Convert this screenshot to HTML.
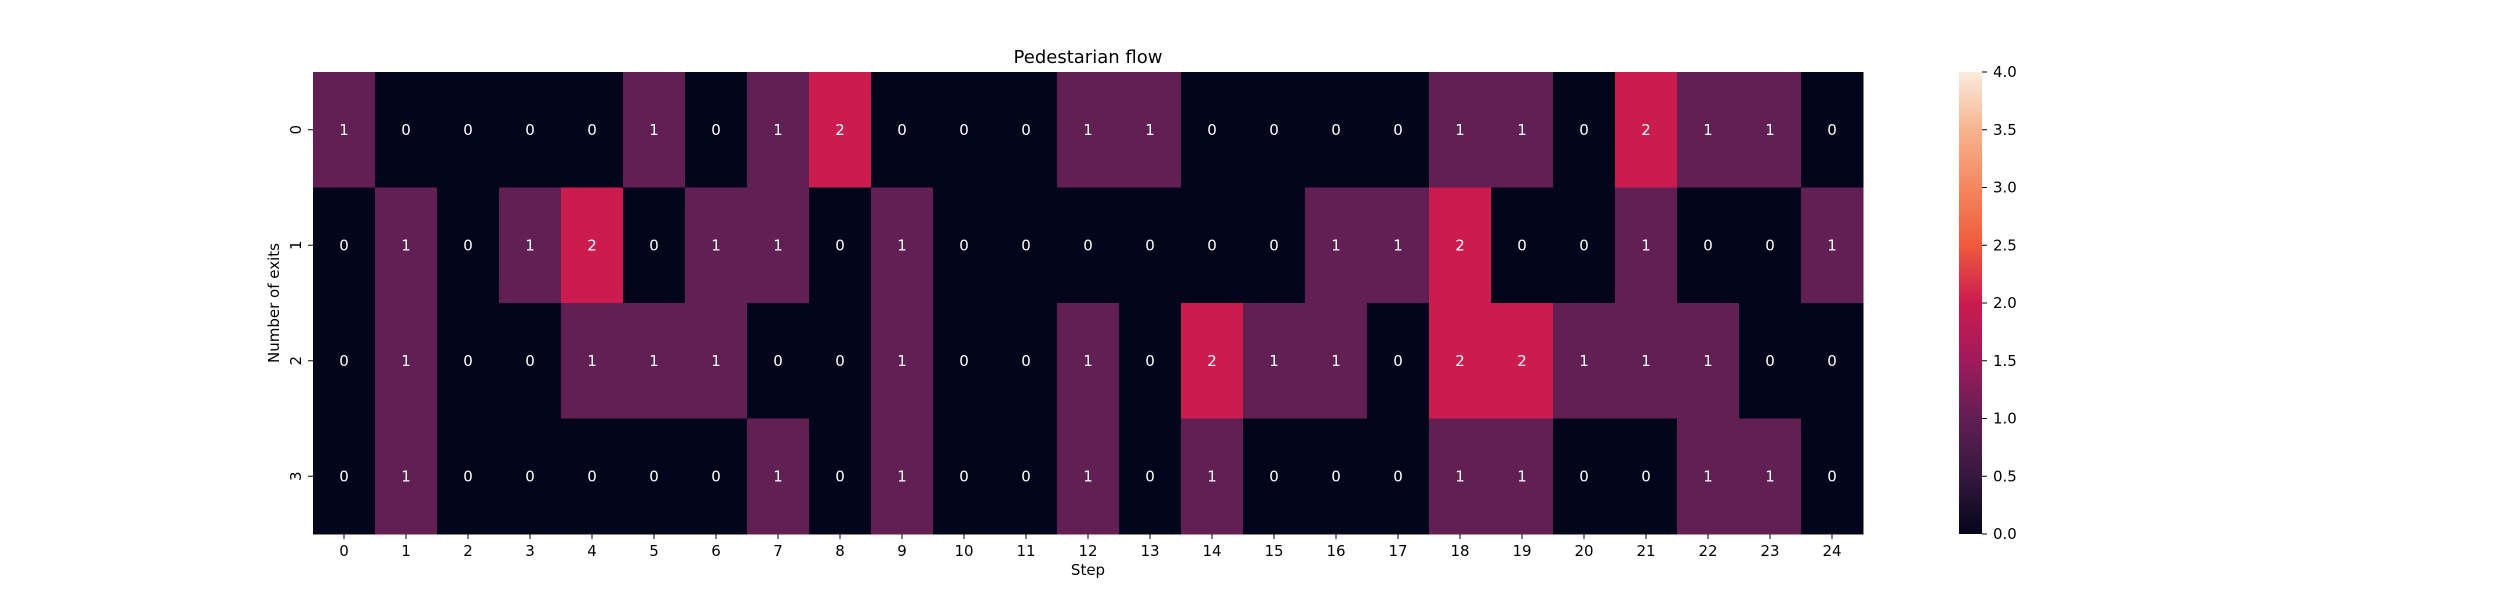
<!DOCTYPE html>
<html><head><meta charset="utf-8"><style>
body{margin:0;background:#fff;}
svg{font-family:"DejaVu Sans","Liberation Sans",sans-serif;}
</style></head><body>
<svg id="chart" width="2500" height="600" xmlns="http://www.w3.org/2000/svg">
<defs><linearGradient id="rk" x1="0" y1="1" x2="0" y2="0">
<stop offset="0" stop-color="#03051a"/><stop offset="0.125" stop-color="#35193e"/><stop offset="0.25" stop-color="#611f53"/><stop offset="0.375" stop-color="#a11a5b"/><stop offset="0.5" stop-color="#cb1b4f"/><stop offset="0.625" stop-color="#ef5a3c"/><stop offset="0.75" stop-color="#f4875e"/><stop offset="0.875" stop-color="#f6b48e"/><stop offset="1" stop-color="#faebdd"/>
</linearGradient></defs>
<text x="1088" y="63" font-size="18" text-anchor="middle">Pedestarian flow</text>
<text x="1088" y="575" font-size="15" text-anchor="middle">Step</text>
<text transform="translate(279,303) rotate(-90)" font-size="15" text-anchor="middle">Number of exits</text>
<g id="cells"></g><g id="ticks"></g>
<rect x="1959" y="72" width="23" height="462" fill="url(#rk)"/>
<g id="cbticks"></g>
</svg>
<script>
const steps=[0,1,2,3,4,5,6,7,8,9,10,11,12,13,14,15,16,17,18,19,20,21,22,23,24];
const exits=[0,1,2,3];
const row0=[1,0,0,0,0,1,0,1,2,0,0,0,1,1,0,0,0,0,1,1,0,2,1,1,0];
const row1=[0,1,0,1,2,0,1,1,0,1,0,0,0,0,0,0,1,1,2,0,0,1,0,0,1];
const row2=[0,1,0,0,1,1,1,0,0,1,0,0,1,0,2,1,1,0,2,2,1,1,1,0,0];
const row3=[0,1,0,0,0,0,0,1,0,1,0,0,1,0,1,0,0,0,1,1,0,0,1,1,0];
const cbTicks=["0.0","0.5","1.0","1.5","2.0","2.5","3.0","3.5","4.0"];
const vmax=4;
const rows=[row0,row1,row2,row3];
const L=313,T=72,W=1550,H=462,ns='http://www.w3.org/2000/svg';
const cw=W/steps.length,ch=H/exits.length;
const xs=i=>L+i*cw, ys=j=>T+j*ch;
const cbY=v=>534-v/vmax*462;
const stops=[[0,[3,5,26]],[0.125,[53,25,62]],[0.25,[97,31,83]],[0.375,[161,26,91]],[0.5,[203,27,79]],[0.625,[239,90,60]],[0.75,[244,135,94]],[0.875,[246,180,142]],[1,[250,235,221]]];
function color(v){let t=Math.max(0,Math.min(1,v/vmax));for(let k=1;k<stops.length;k++){if(t<=stops[k][0]){const a=stops[k-1],b=stops[k],f=(t-a[0])/(b[0]-a[0]);return 'rgb('+a[1].map((c,i)=>Math.round(c+(b[1][i]-c)*f)).join(',')+')';}}return 'rgb(250,235,221)';}
function mk(tag,at,p){const e=document.createElementNS(ns,tag);for(const k in at)e.setAttribute(k,at[k]);p.appendChild(e);return e;}
const cells=document.getElementById('cells'),tk=document.getElementById('ticks'),cb=document.getElementById('cbticks');
rows.forEach((r,j)=>r.forEach((v,i)=>{
 const re=mk('rect',{x:xs(i),y:ys(j),width:cw+0.5,height:ch+0.5,fill:color(v)},cells);
 
 
 const t=mk('text',{x:xs(i)+cw/2,y:ys(j)+ch/2+5,'font-size':15,fill:'#fff','text-anchor':'middle'},cells);
 t.textContent=v;
 
 
}));
steps.forEach((s,i)=>{
 const x=xs(i)+cw/2;
 mk('line',{x1:x,x2:x,y1:534,y2:539,stroke:'#000','stroke-width':1},tk);
 const t=mk('text',{x:x,y:556,'font-size':15,'text-anchor':'middle'},tk);t.textContent=s;
 
 
});
exits.forEach((e,j)=>{
 const y=ys(j)+ch/2;
 mk('line',{x1:308,x2:313,y1:y,y2:y,stroke:'#000','stroke-width':1},tk);
 const t=mk('text',{transform:'translate(301,'+y+') rotate(-90)','font-size':15,'text-anchor':'middle'},tk);t.textContent=e;
 
 
});
cbTicks.forEach(s=>{
 const y=cbY(parseFloat(s));
 mk('line',{x1:1982,x2:1987,y1:y,y2:y,stroke:'#000','stroke-width':1},cb);
 const t=mk('text',{x:1993,y:y+5,'font-size':15},cb);t.textContent=s;
 
 
});
</script>
</body></html>
